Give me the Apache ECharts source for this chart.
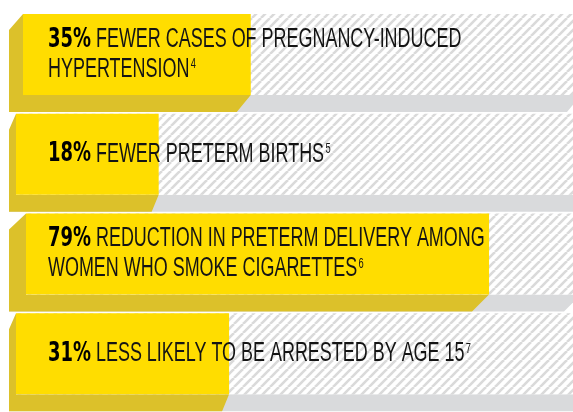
<!DOCTYPE html>
<html>
<head>
<meta charset="utf-8">
<script src="https://cdn.jsdelivr.net/npm/echarts@6/dist/echarts.min.js"></script>
<style>
  html, body { margin: 0; padding: 0; background: #ffffff; }
  #chart { width: 573px; height: 412px; }
</style>
</head>
<body>
<div id="chart"></div>
<script>
// ---- data ----
const categories = ['Pregnancy-induced hypertension', 'Preterm births', 'Preterm delivery among smokers', 'Arrested by age 15'];
const percentValues = [35, 18, 79, 31];
const percentLabels = ['35%', '18%', '79%', '31%'];
const statements = [
  'FEWER CASES OF PREGNANCY-INDUCED\nHYPERTENSION',
  'FEWER PRETERM BIRTHS',
  'REDUCTION IN PRETERM DELIVERY AMONG\nWOMEN WHO SMOKE CIGARETTES',
  'LESS LIKELY TO BE ARRESTED BY AGE 15'
];
const footnotes = ['4', '5', '6', '7'];

// ---- styles ----
const YELLOW = '#FFDD00';
const YELLOW_SIDE = '#DCC12A';
const GRAY_SIDE = '#D9DADC';
const TEXT = '#141414';
const depthX = [14, 7, 17, 7];   // perspective depth of each slab (style)

// hatch pattern
const hatch = document.createElement('canvas');
hatch.width = 9; hatch.height = 9;
(function () {
  const c = hatch.getContext('2d');
  c.fillStyle = '#ffffff';
  c.fillRect(0, 0, 9, 9);
  c.strokeStyle = '#dadada';
  c.lineWidth = 2.6;
  [-9, 0, 9].forEach(function (k) {
    c.beginPath();
    c.moveTo(k, 9);
    c.lineTo(k + 9, 0);
    c.stroke();
  });
})();

const chart = echarts.init(document.getElementById('chart'), null, { renderer: 'canvas' });

function renderItem(params, api) {
  const i = params.dataIndex;
  const v = api.value(0);
  const end = api.coord([v, i]);
  const band = api.size([0, 1])[1];
  const bandStart = end[1] - band / 2;
  const d = depthX[i];
  const extLeft = 9;
  const fl = extLeft + d;          // front face left
  const ft = bandStart + 1;        // front face top
  const fh = 81;                   // front face height
  const fb = ft + fh;              // front face bottom
  const dy = 17;                   // extrusion depth (vertical)
  const yr = end[0];               // yellow right edge (from scale)
  const gr = params.coordSys.x + params.coordSys.width + 8; // gray track right

  const richText = '{b|' + percentLabels[i] + '} ' + statements[i] + '{s|' + footnotes[i] + '}';

  return {
    type: 'group',
    children: [
      {
        type: 'polygon',
        shape: { points: [[fl - d, fb], [gr, fb], [gr - d, fb + dy], [fl - d, fb + dy]] },
        style: { fill: GRAY_SIDE }
      },
      {
        type: 'polygon',
        shape: { points: [[fl, ft], [fl - d, ft + dy - 1], [fl - d, fb + dy], [yr - d, fb + dy], [yr, fb], [fl, fb]] },
        style: { fill: YELLOW_SIDE }
      },
      {
        type: 'rect',
        shape: { x: fl, y: ft, width: gr - fl, height: fh },
        style: { fill: { image: hatch, repeat: 'repeat' } }
      },
      {
        type: 'rect',
        shape: { x: fl, y: ft, width: yr - fl, height: fh },
        style: { fill: YELLOW }
      },
      {
        type: 'text',
        x: 48,
        y: ft + fh / 2,
        scaleX: 0.665,
        scaleY: 1,
        style: {
          text: richText,
          x: 0, y: 0,
          align: 'left',
          verticalAlign: 'middle',
          fill: TEXT,
          fontFamily: 'Liberation Sans',
          fontSize: 27,
          fontWeight: 'normal',
          lineHeight: 30,
          rich: {
            b: { fontFamily: 'DejaVu Sans', fontWeight: 'bold', fontSize: 27, lineHeight: 30, fill: '#000000' },
            s: { fontFamily: 'Liberation Sans', fontSize: 14, lineHeight: 14, verticalAlign: 'top', padding: [3, 0, 0, 2], fill: TEXT }
          }
        }
      }
    ]
  };
}

chart.setOption({
  animation: false,
  grid: { left: 0, right: 0, top: 13, height: 404 },
  xAxis: { type: 'value', min: -11.3, max: 94.5, show: false },
  yAxis: { type: 'category', data: categories, inverse: true, show: false },
  series: [{
    type: 'custom',
    renderItem: renderItem,
    clip: false,
    encode: { x: 0, y: 1 },
    data: percentValues.map(function (v, i) { return [v, i]; })
  }]
});
</script>
</body>
</html>
